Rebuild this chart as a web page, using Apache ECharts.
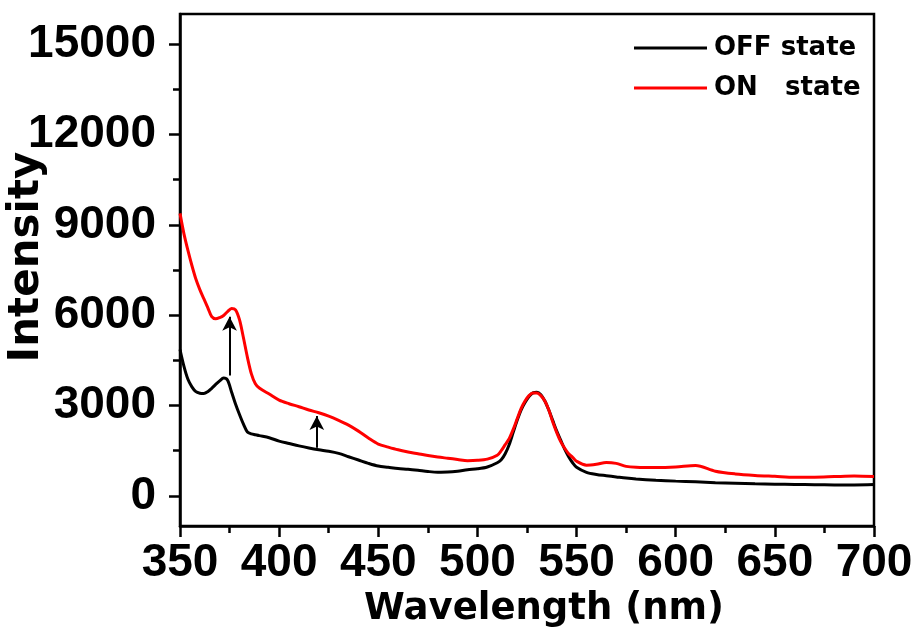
<!DOCTYPE html>
<html>
<head>
<meta charset="utf-8">
<title>Intensity vs Wavelength</title>
<script src="https://cdn.jsdelivr.net/npm/echarts@6/dist/echarts.min.js"></script>
<style>
  html, body { margin: 0; padding: 0; background: #fff; }
  #chart { width: 917px; height: 635px; }
</style>
</head>
<body>
<div id="chart"></div>
<script>
// Emission spectra, wavelength in nm
const wavelength = [
  350, 352, 354, 356, 358, 360, 362, 364, 366, 368, 370, 372, 374, 376, 378, 380,
  382, 384, 386, 388, 390, 395, 400, 405, 410, 415, 420, 425, 430, 435, 440, 445,
  450, 455, 460, 465, 470, 475, 480, 485, 490, 495, 500, 505, 510, 512, 514, 516,
  518, 520, 522, 524, 526, 528, 530, 532, 534, 536, 538, 540, 542, 544, 546, 548,
  550, 555, 560, 565, 570, 575, 580, 590, 600, 610, 620, 630, 640, 650, 660, 670,
  680, 690, 700
];

const offState = [
  4860, 4300, 3870, 3620, 3460, 3410, 3400, 3460, 3570, 3700, 3820, 3910, 3840, 3450, 3050, 2700,
  2380, 2120, 2060, 2030, 2000, 1930, 1820, 1740, 1660, 1590, 1530, 1480, 1410, 1300, 1190, 1080,
  990, 950, 910, 885, 850, 810, 785, 790, 820, 870, 900, 960, 1100, 1200, 1400, 1700,
  2100, 2500, 2850, 3100, 3300, 3420, 3440, 3360, 3150, 2850, 2500, 2150, 1850, 1550, 1300, 1100,
  950, 780, 710, 670, 630, 590, 560, 520, 490, 470, 440, 420, 400, 390, 380, 370,
  365, 365, 375
];

const onState = [
  9380, 8700, 8150, 7650, 7200, 6850, 6550, 6250, 5950, 5880, 5920, 5990, 6120, 6220, 6180, 5850,
  5250, 4600, 4050, 3720, 3580, 3380, 3180, 3060, 2960, 2850, 2760, 2650, 2510, 2350, 2150, 1920,
  1720, 1620, 1530, 1460, 1400, 1340, 1290, 1250, 1210, 1170, 1180, 1220, 1350, 1500, 1700, 1900,
  2200, 2550, 2900, 3150, 3330, 3420, 3420, 3330, 3150, 2850, 2450, 2100, 1800, 1580, 1400, 1280,
  1150, 1020, 1050, 1110, 1080, 980, 950, 940, 960, 1010, 820, 730, 680, 650, 620, 620,
  640, 660, 640
];

// Arrows marking the rise between the two states: [wavelength, from, to]
const arrowRise = [
  [375, 4000, 5950],
  [419, 1600, 2650]
];

const yMajorTicks = [0, 3000, 6000, 9000, 12000, 15000];
const yMinorTicks = [1500, 4500, 7500, 10500, 13500];
const seriesNames = ['OFF state', 'ON   state'];

const pairs = (xs, ys) => xs.map((x, i) => [x, ys[i]]);
const plainNumber = v => String(v);

const tickFont = {
  color: '#000',
  fontFamily: 'Liberation Sans',
  fontWeight: 'bold',
  fontSize: 46,
  formatter: plainNumber
};

const chart = echarts.init(document.getElementById('chart'), null, { renderer: 'canvas' });

chart.setOption({
  animation: false,
  backgroundColor: '#fff',
  grid: {
    left: 180,
    right: 43,
    top: 14,
    bottom: 109,
    containLabel: false,
    outerBoundsMode: 'none',
    show: true,
    borderColor: '#000',
    borderWidth: 2.5,
    backgroundColor: 'transparent'
  },
  legend: {
    orient: 'vertical',
    left: 629,
    top: 30,
    icon: 'rect',
    itemWidth: 73,
    itemHeight: 3,
    itemGap: 14,
    data: seriesNames,
    textStyle: {
      color: '#000',
      fontFamily: 'DejaVu Sans',
      fontWeight: 'bold',
      fontSize: 26,
      padding: [0, 0, 0, 2]
    }
  },
  xAxis: {
    type: 'value',
    min: 350,
    max: 700,
    interval: 50,
    name: 'Wavelength (nm)',
    nameLocation: 'middle',
    nameGap: 62,
    nameTextStyle: {
      color: '#000',
      fontFamily: 'DejaVu Sans',
      fontWeight: 'bold',
      fontSize: 37,
      padding: [0, 0, 0, 34]
    },
    axisLine: { show: true, onZero: false, lineStyle: { color: '#000', width: 2.5 } },
    axisTick: { show: true, inside: false, length: 11, lineStyle: { color: '#000', width: 2.5 } },
    minorTick: { show: true, splitNumber: 2, length: 7, lineStyle: { color: '#000', width: 2.5 } },
    axisLabel: Object.assign({ margin: 14 }, tickFont),
    splitLine: { show: false },
    minorSplitLine: { show: false }
  },
  yAxis: [
    {
      type: 'value',
      min: -1000,
      max: 16000,
      position: 'left',
      name: 'Intensity',
      nameLocation: 'middle',
      nameGap: 132,
      nameMoveOverlap: false,
      nameTextStyle: {
        color: '#000',
        fontFamily: 'DejaVu Sans',
        fontWeight: 'bold',
        fontSize: 42,
        padding: [0, 0, 0, 26]
      },
      axisLine: { show: true, onZero: false, lineStyle: { color: '#000', width: 2.5 } },
      axisTick: {
        show: true,
        inside: false,
        length: 11,
        customValues: yMajorTicks,
        lineStyle: { color: '#000', width: 2.5 }
      },
      axisLabel: Object.assign({ margin: 24, customValues: yMajorTicks }, tickFont),
      splitLine: { show: false }
    },
    {
      type: 'value',
      min: -1000,
      max: 16000,
      position: 'left',
      offset: 0,
      axisLine: { show: false },
      axisTick: {
        show: true,
        inside: false,
        length: 7,
        customValues: yMinorTicks,
        lineStyle: { color: '#000', width: 2.5 }
      },
      axisLabel: { show: false },
      splitLine: { show: false }
    }
  ],
  series: [
    {
      name: seriesNames[0],
      type: 'line',
      data: pairs(wavelength, offState),
      showSymbol: false,
      symbol: 'none',
      smooth: 0.3,
      color: '#000',
      lineStyle: { color: '#000', width: 3 },
      z: 2,
      markLine: {
        silent: true,
        symbol: ['none', 'arrow'],
        symbolSize: [11, 14],
        label: { show: false },
        lineStyle: { color: '#000', width: 2, type: 'solid' },
        data: arrowRise.map(a => [
          { coord: [a[0], a[1]] },
          { coord: [a[0], a[2]] }
        ])
      }
    },
    {
      name: seriesNames[1],
      type: 'line',
      data: pairs(wavelength, onState),
      showSymbol: false,
      symbol: 'none',
      smooth: 0.3,
      color: '#ff0000',
      lineStyle: { color: '#ff0000', width: 3 },
      z: 3
    }
  ]
});
</script>
</body>
</html>
